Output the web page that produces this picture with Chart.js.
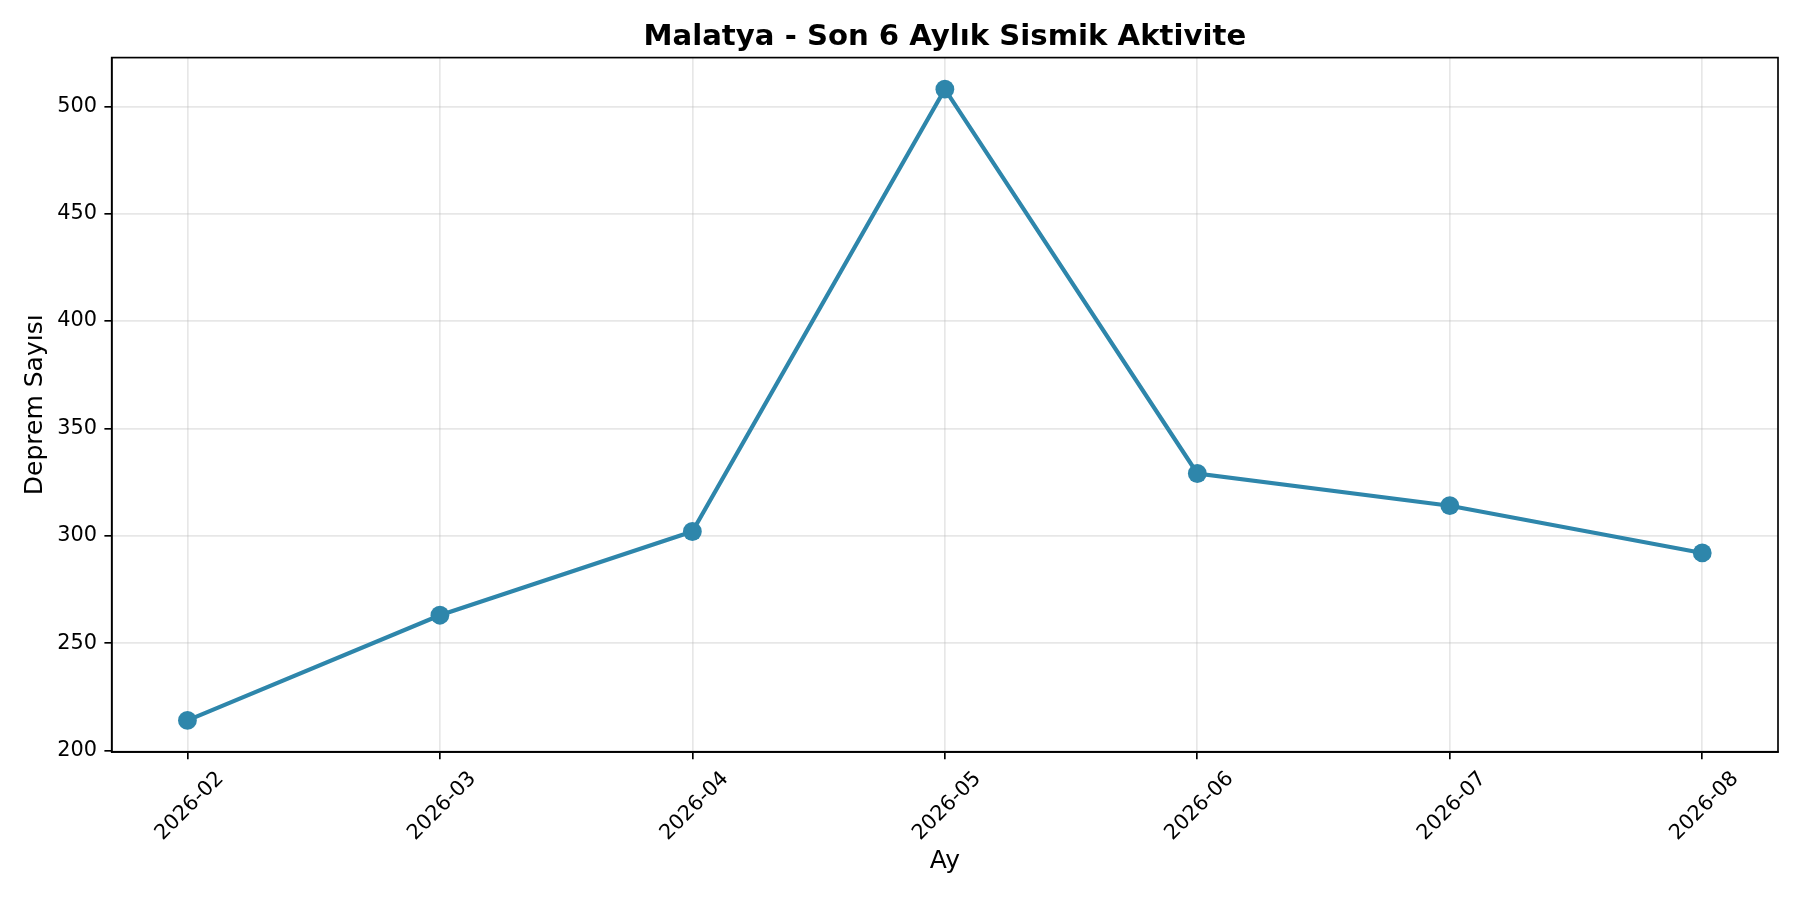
<!DOCTYPE html>
<html>
<head>
<meta charset="utf-8">
<script src="https://cdn.jsdelivr.net/npm/chart.js@4.4.1/dist/chart.umd.min.js"></script>
<style>
    html, body { margin: 0; padding: 0; background: #fff; }
    #wrap { width: 1800px; height: 900px; }
</style>
</head>
<body>
<div id="wrap"><canvas id="chart1" width="1800" height="900"></canvas></div>
<script>
// data
const months = ['2026-02', '2026-03', '2026-04', '2026-05', '2026-06', '2026-07', '2026-08'];
const quakeCounts = [214, 263, 302, 508, 329, 314, 292];
const yTicks = [200, 250, 300, 350, 400, 450, 500];

const lineColor = '#2E86AB';
const gridColor = 'rgba(176, 176, 176, 0.3)';

Chart.defaults.font.family = '"DejaVu Sans", sans-serif';
Chart.defaults.color = '#000';

// matplotlib style full box round the plot area
const frame = {
    id: 'frame',
    afterDraw(chart) {
        const {ctx, chartArea} = chart;
        ctx.save();
        ctx.strokeStyle = '#000';
        ctx.lineWidth = 1.67;
        ctx.strokeRect(chartArea.left, chartArea.top,
            chartArea.right - chartArea.left, chartArea.bottom - chartArea.top);
        ctx.restore();
    }
};

const ctx1 = document.getElementById('chart1');
const chart1 = new Chart(ctx1, {
    type: 'line',
    data: {
        datasets: [{
            label: 'Deprem Sayısı',
            data: quakeCounts.map((v, i) => ({x: i, y: v})),
            borderColor: lineColor,
            backgroundColor: lineColor,
            borderWidth: 4.2,
            pointRadius: 9.4,
            pointBorderWidth: 0,
            pointHoverRadius: 9.4,
            tension: 0,
            fill: false
        }]
    },
    options: {
        responsive: false,
        devicePixelRatio: 1,
        animation: false,
        layout: {
            padding: {left: 0, right: 22, top: 0, bottom: 0}
        },
        plugins: {
            legend: {display: false},
            tooltip: {enabled: false},
            title: {
                display: true,
                fullSize: false,
                text: 'Malatya - Son 6 Aylık Sismik Aktivite',
                font: {size: 29.17, weight: 'bold', lineHeight: 1.2},
                color: '#000',
                padding: {top: 20, bottom: 2.6}
            }
        },
        scales: {
            x: {
                type: 'linear',
                min: -0.3,
                max: 6.3,
                bounds: 'data',
                afterBuildTicks: (scale) => {
                    scale.ticks = months.map((m, i) => ({value: i}));
                },
                afterFit: (scale) => {
                    scale.height = 148;
                },
                ticks: {
                    autoSkip: false,
                    minRotation: 45,
                    maxRotation: 45,
                    padding: 7.3,
                    labelOffset: 33,
                    font: {size: 20.83},
                    color: '#000',
                    callback: (value) => months[value]
                },
                grid: {
                    color: gridColor,
                    lineWidth: 1.67,
                    drawTicks: true,
                    tickLength: 7.3,
                    tickColor: '#000',
                    tickWidth: 1.67
                },
                border: {display: true, color: '#000', width: 1.67},
                title: {
                    display: true,
                    text: 'Ay',
                    font: {size: 25, lineHeight: 1.2},
                    color: '#000',
                    padding: {top: 0, bottom: 24}
                }
            },
            y: {
                min: 199.3,
                max: 522.7,
                bounds: 'data',
                afterBuildTicks: (scale) => {
                    scale.ticks = yTicks.map(v => ({value: v}));
                },
                afterFit: (scale) => {
                    scale.width = 111.7;
                },
                ticks: {
                    padding: 7.3,
                    font: {size: 20.83},
                    color: '#000'
                },
                grid: {
                    color: gridColor,
                    lineWidth: 1.67,
                    drawTicks: true,
                    tickLength: 7.3,
                    tickColor: '#000',
                    tickWidth: 1.67
                },
                border: {display: true, color: '#000', width: 1.67},
                title: {
                    display: true,
                    text: 'Deprem Sayısı',
                    font: {size: 25, lineHeight: 1.2},
                    color: '#000',
                    padding: {top: 20.6, bottom: 0}
                }
            }
        }
    },
    plugins: [frame]
});
</script>
</body>
</html>
